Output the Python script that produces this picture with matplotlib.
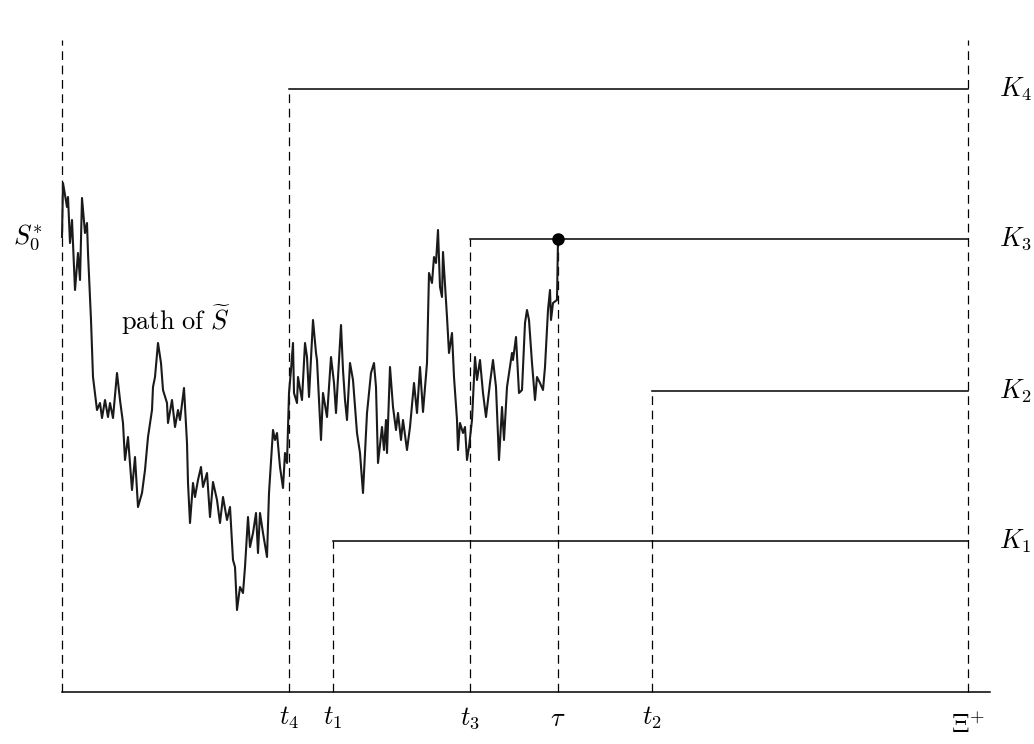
import numpy as np
import matplotlib
matplotlib.use("Agg")
import matplotlib.pyplot as plt

plt.rcParams['mathtext.fontset'] = 'cm'
plt.rcParams['font.family'] = 'DejaVu Serif'

# barrier levels and the times at which they switch on
levels = [1.51, 3.01, 4.53, 6.03]
level_names = [r'$K_1$', r'$K_2$', r'$K_3$', r'$K_4$']
start_times = [2.71, 5.90, 4.08, 2.27]
time_names = [r'$t_1$', r'$t_2$', r'$t_3$', r'$t_4$']
tau = 4.96
horizon = 9.06
s0 = 4.54

# sample path
path_t = [0.00, 0.01, 0.05, 0.06, 0.08, 0.10, 0.13, 0.16, 0.18, 0.20, 0.23, 0.25, 0.26, 0.29,
          0.31, 0.35, 0.38, 0.40, 0.43, 0.46, 0.48, 0.51, 0.55, 0.58, 0.61, 0.63, 0.66, 0.70,
          0.73, 0.76, 0.80, 0.83, 0.86, 0.90, 0.91, 0.93, 0.96, 0.99, 1.01, 1.05, 1.06, 1.10,
          1.13, 1.16, 1.18, 1.22, 1.25, 1.26, 1.28, 1.31, 1.33, 1.36, 1.39, 1.41, 1.45, 1.48,
          1.51, 1.55, 1.58, 1.61, 1.65, 1.68, 1.71, 1.73, 1.75, 1.78, 1.81, 1.83, 1.86, 1.88,
          1.91, 1.94, 1.96, 1.98, 2.01, 2.05, 2.07, 2.11, 2.13, 2.15, 2.18, 2.21, 2.23, 2.25,
          2.27, 2.29, 2.31, 2.32, 2.35, 2.36, 2.40, 2.43, 2.45, 2.47, 2.51, 2.54, 2.55, 2.59,
          2.61, 2.65, 2.69, 2.72, 2.74, 2.79, 2.81, 2.83, 2.85, 2.88, 2.91, 2.95, 2.98, 3.01,
          3.05, 3.09, 3.12, 3.14, 3.16, 3.20, 3.22, 3.24, 3.25, 3.28, 3.31, 3.34, 3.36, 3.39,
          3.41, 3.45, 3.48, 3.52, 3.55, 3.58, 3.61, 3.65, 3.67, 3.70, 3.72, 3.74, 3.76, 3.78,
          3.80, 3.81, 3.85, 3.87, 3.90, 3.92, 3.95, 3.96, 3.98, 4.01, 4.03, 4.05, 4.07, 4.10,
          4.13, 4.15, 4.18, 4.21, 4.24, 4.28, 4.31, 4.34, 4.37, 4.40, 4.42, 4.45, 4.50, 4.51,
          4.54, 4.57, 4.60, 4.63, 4.65, 4.67, 4.70, 4.73, 4.75, 4.78, 4.81, 4.83, 4.86, 4.88,
          4.89, 4.91, 4.95, 4.96]
path_s = [4.55, 5.09, 4.85, 4.95, 4.49, 4.72, 4.02, 4.39, 4.12, 4.94, 4.59, 4.69, 4.39, 3.72,
          3.15, 2.82, 2.89, 2.74, 2.92, 2.75, 2.89, 2.74, 3.19, 2.92, 2.69, 2.32, 2.55, 2.02,
          2.35, 1.85, 1.99, 2.22, 2.55, 2.82, 3.05, 3.15, 3.49, 3.29, 3.02, 2.89, 2.69, 2.92,
          2.65, 2.82, 2.72, 3.04, 2.49, 2.09, 1.69, 2.09, 1.95, 2.12, 2.25, 2.05, 2.19, 1.75,
          2.10, 1.92, 1.69, 1.95, 1.72, 1.85, 1.32, 1.25, 0.82, 1.05, 0.99, 1.25, 1.75, 1.45,
          1.59, 1.79, 1.39, 1.79, 1.59, 1.35, 1.99, 2.62, 2.52, 2.59, 2.25, 2.04, 2.39, 2.29,
          2.99, 3.22, 3.49, 2.99, 2.89, 3.15, 2.92, 3.49, 3.35, 2.95, 3.72, 3.39, 3.32, 2.52,
          2.99, 2.75, 3.35, 3.09, 2.79, 3.67, 3.22, 2.92, 2.72, 3.29, 3.12, 2.59, 2.39, 1.99,
          2.79, 3.19, 3.29, 3.05, 2.29, 2.65, 2.42, 2.72, 2.39, 3.25, 2.85, 2.62, 2.79, 2.52,
          2.72, 2.42, 2.65, 3.09, 2.79, 3.25, 2.80, 3.29, 4.19, 4.09, 4.35, 4.29, 4.62, 4.05,
          3.95, 4.40, 3.75, 3.39, 3.59, 3.15, 2.72, 2.42, 2.69, 2.59, 2.65, 2.32, 2.45, 2.72,
          3.35, 3.12, 3.32, 2.99, 2.75, 3.09, 3.32, 3.05, 2.32, 2.85, 2.52, 3.05, 3.39, 3.32,
          3.55, 2.99, 3.02, 3.69, 3.82, 3.72, 3.29, 2.92, 3.15, 3.09, 3.02, 3.25, 3.82, 4.02,
          3.72, 3.89, 3.92, 4.53]

fig = plt.figure(figsize=(10.34, 7.44), dpi=100)
ax = fig.add_axes([62 / 1034, 52 / 744, 972 / 1034, 692 / 744])
ax.set_xlim(0, 9.72)
ax.set_ylim(0, 6.92)
ax.axis('off')

dash = dict(color='black', lw=0.9, dashes=(7, 4.5), clip_on=False)
solid = dict(color='black', lw=1.1, clip_on=False)

# axes
ax.plot([0, 0], [0, 6.52], **dash)
ax.plot([horizon, horizon], [0, 6.52], **dash)
ax.plot([0, 9.28], [0, 0], **solid)

# barriers
for k, t0, name, tname in zip(levels, start_times, level_names, time_names):
    ax.plot([t0, horizon], [k, k], **solid)
    ax.plot([t0, t0], [0, k], **dash)
    ax.text(horizon + 0.31, k, name, fontsize=19, ha='left', va='center')
    ax.text(t0, -0.26, tname, fontsize=19, ha='center', va='center')

# stopping time
ax.plot([tau, tau], [0, levels[2]], **dash)
ax.text(tau, -0.26, r'$\tau$', fontsize=19, ha='center', va='center')
ax.text(horizon, -0.33, r'$\Xi^{+}$', fontsize=19, ha='center', va='center')

# path
ax.plot(path_t, path_s, color='#1a1a1a', lw=1.5, clip_on=False)
ax.plot([tau], [levels[2]], 'o', color='black', markersize=8, clip_on=False)

ax.text(-0.19, s0, r'$S_0^{*}$', fontsize=19, ha='right', va='center')
ax.text(1.14, 3.72, r'$\mathrm{path\ of}\ \widetilde{S}$', fontsize=19,
        ha='center', va='center')

fig.savefig('out.png', dpi=100)
